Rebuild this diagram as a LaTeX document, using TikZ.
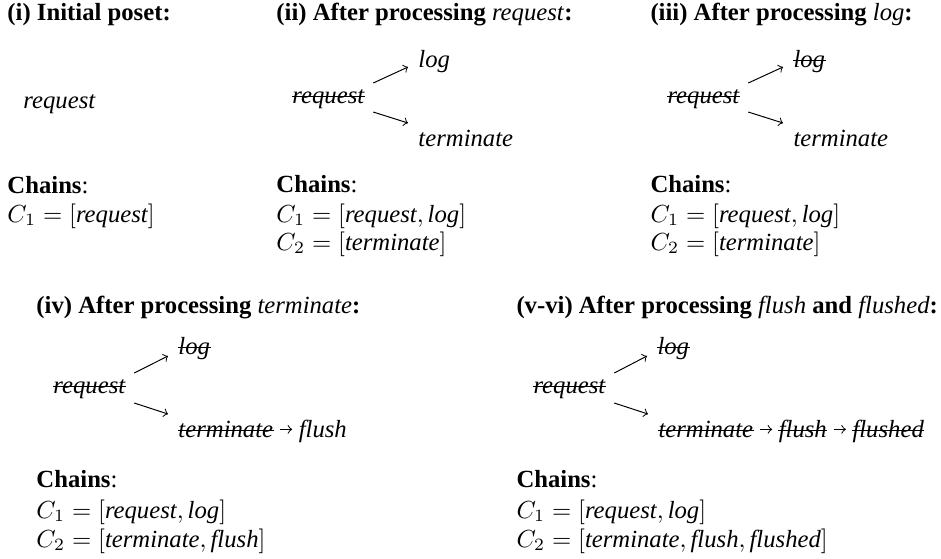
\documentclass[tikz,border=0pt]{standalone}
\usepackage{fontspec}
\setmainfont{Liberation Serif}
\usetikzlibrary{calc,positioning}

\tikzset{
  head/.style={inner sep=0pt, anchor=base west},
  lbl/.style={inner sep=0pt, anchor=base west, text height=1.6ex, text depth=.25ex},
  crossed/.style={append after command={([yshift=.55ex]\tikzlastnode.base west) edge[-] ([yshift=.55ex]\tikzlastnode.base east)}},
  step arrow/.style={->, shorten <=2.5pt, shorten >=2.5pt},
}

\begin{document}
\begin{tikzpicture}[>=to, x=0.405pt, y=-0.405pt]
\useasboundingbox (0,0) rectangle (941,558);

% (i)
\node[head] (h1) at (7,20) {\textbf{(i) Initial poset:}};
\node[lbl] (req1) at (23,108) {\textit{request}};
\node[head] (ch1) at (7,193) {\textbf{Chains}:};
\node[head] (ca1) at (7,222) {$C_1 = [\textit{request}]$};

% (ii)
\node[head] (h2) at (276,20) {\textbf{(ii) After processing} \textit{request}\textbf{:}};
\node[lbl, crossed] (req2) at (292,103) {\textit{request}};
\node[lbl] (log2) at (418,67) {\textit{log}};
\node[lbl] (term2) at (418,146) {\textit{terminate}};
\draw[->] ($(req2.base east)+(8,-20)$) -- ($(log2.base west)+(-10,0)$);
\draw[->] ($(req2.base east)+(8,9)$) -- ($(term2.base west)+(-10,-23)$);
\node[head] (ch2) at (276,192) {\textbf{Chains}:};
\node[head] (ca2) at (276,222) {$C_1 = [\textit{request}, \textit{log}]$};
\node[head] (cb2) at (276,250) {$C_2 = [\textit{terminate}]$};

% (iii)
\node[head] (h3) at (650,20) {\textbf{(iii) After processing} \textit{log}\textbf{:}};
\node[lbl, crossed] (req3) at (667,103) {\textit{request}};
\node[lbl, crossed] (log3) at (793,67) {\textit{log}};
\node[lbl] (term3) at (793,146) {\textit{terminate}};
\draw[->] ($(req3.base east)+(8,-20)$) -- ($(log3.base west)+(-10,0)$);
\draw[->] ($(req3.base east)+(8,9)$) -- ($(term3.base west)+(-10,-23)$);
\node[head] (ch3) at (650,192) {\textbf{Chains}:};
\node[head] (ca3) at (650,222) {$C_1 = [\textit{request}, \textit{log}]$};
\node[head] (cb3) at (650,250) {$C_2 = [\textit{terminate}]$};

% (iv)
\node[head] (h4) at (36,313) {\textbf{(iv) After processing} \textit{terminate}\textbf{:}};
\node[lbl, crossed] (req4) at (53,393) {\textit{request}};
\node[lbl, crossed] (log4) at (178,354) {\textit{log}};
\node[lbl, crossed] (term4) at (178,437) {\textit{terminate}};
\node[lbl, right=10pt of term4] (flush4) {\textit{flush}};
\draw[->] ($(req4.base east)+(8,-20)$) -- ($(log4.base west)+(-10,2)$);
\draw[->] ($(req4.base east)+(8,10)$) -- ($(term4.base west)+(-10,-23)$);
\draw[step arrow] (term4) -- (flush4);
\node[head] (ch4) at (36,487) {\textbf{Chains}:};
\node[head] (ca4) at (36,518) {$C_1 = [\textit{request}, \textit{log}]$};
\node[head] (cb4) at (36,547) {$C_2 = [\textit{terminate}, \textit{flush}]$};

% (v-vi)
\node[head] (h5) at (516,313) {\textbf{(v-vi) After processing} \textit{flush} \textbf{and} \textit{flushed}\textbf{:}};
\node[lbl, crossed] (req5) at (533,393) {\textit{request}};
\node[lbl, crossed] (log5) at (657,354) {\textit{log}};
\node[lbl, crossed] (term5) at (658,437) {\textit{terminate}};
\node[lbl, crossed, right=10pt of term5] (flush5) {\textit{flush}};
\node[lbl, crossed, right=10pt of flush5] (flushed5) {\textit{flushed}};
\draw[->] ($(req5.base east)+(8,-20)$) -- ($(log5.base west)+(-10,2)$);
\draw[->] ($(req5.base east)+(8,10)$) -- ($(term5.base west)+(-10,-23)$);
\draw[step arrow] (term5) -- (flush5);
\draw[step arrow] (flush5) -- (flushed5);
\node[head] (ch5) at (516,487) {\textbf{Chains}:};
\node[head] (ca5) at (516,518) {$C_1 = [\textit{request}, \textit{log}]$};
\node[head] (cb5) at (516,547) {$C_2 = [\textit{terminate}, \textit{flush}, \textit{flushed}]$};
\end{tikzpicture}
\end{document}
